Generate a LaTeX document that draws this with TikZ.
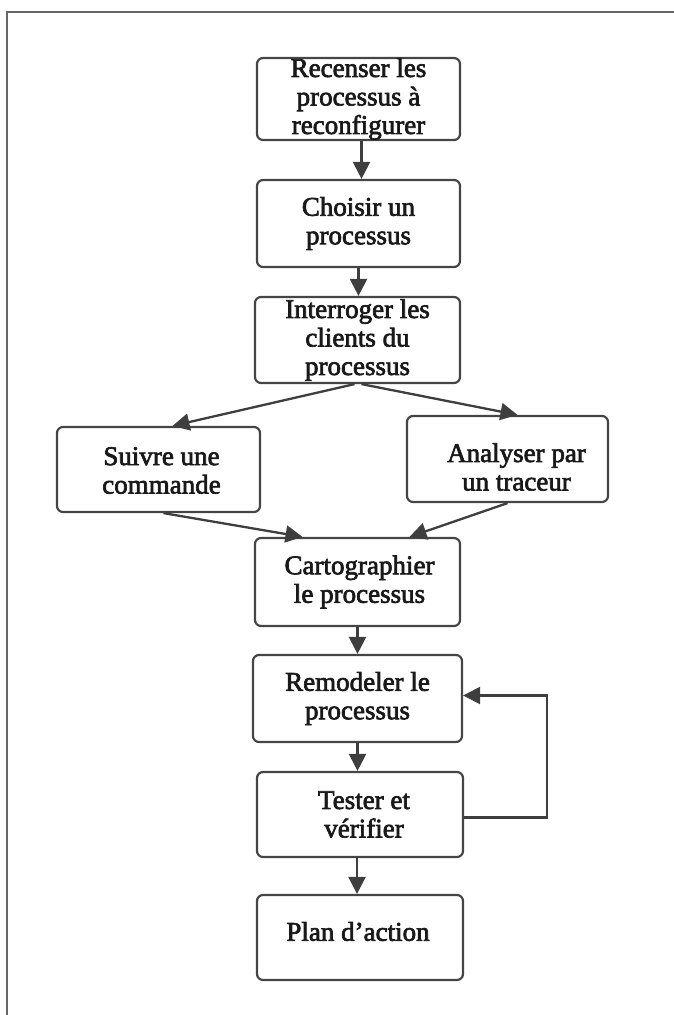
\documentclass[tikz,border=0pt]{standalone}
\usepackage{fontspec}
\setmainfont{Liberation Serif}[FakeBold=2.5]
\usetikzlibrary{arrows.meta,calc}

\tikzset{
  stepbox/.style={draw=boxgray, line width=2.2pt, rounded corners=6pt, inner sep=0pt},
  label/.style={align=center, inner sep=0pt, font=\fontsize{27}{28.5}\selectfont, text=black!90},
  arr/.style={draw=linegray, line width=2.3pt,
    -{Triangle[length=17pt, width=17pt]}},
  frame/.style={draw=framegray, line width=2.2pt}
}
\definecolor{boxgray}{HTML}{454545}
\definecolor{linegray}{HTML}{3E3E3E}
\definecolor{framegray}{HTML}{666666}

\begin{document}
\begin{tikzpicture}[x=1pt, y=-1pt]
\useasboundingbox (0,0) rectangle (673,1015);

% outer frame
\draw[frame] (7,1030) -- (7,12) -- (690,12);

% process boxes
\node[stepbox, minimum width=203pt, minimum height=82pt] (b1) at (358.5,99) {};
\node[stepbox, minimum width=203pt, minimum height=87pt] (b2) at (358.5,223.5) {};
\node[stepbox, minimum width=205pt, minimum height=86pt] (b3) at (357.5,340) {};
\node[stepbox, minimum width=203pt, minimum height=85pt] (b4) at (158.5,469.5) {};
\node[stepbox, minimum width=201pt, minimum height=86pt] (b5) at (507.5,459) {};
\node[stepbox, minimum width=205pt, minimum height=88pt] (b6) at (357.5,582) {};
\node[stepbox, minimum width=209pt, minimum height=87pt] (b7) at (357.5,698.5) {};
\node[stepbox, minimum width=206pt, minimum height=85pt] (b8) at (360,814.5) {};
\node[stepbox, minimum width=206pt, minimum height=85pt] (b9) at (360,937.5) {};

% box texts
\node[label] (t1) at (b1) {Recenser les\\processus à\\reconfigurer};
\node[label] (t2) at (b2) {Choisir un\\processus};
\node[label] (t3) at (b3) {Interroger les\\clients du\\processus};
\node[label] (t4) at ($(b4)+(3,1)$) {Suivre une\\commande};
\node[label] (t5) at ($(b5)+(9,8)$) {Analyser par\\un traceur};
\node[label] (t6) at ($(b6)+(2,0)$) {Cartographier\\le processus};
\node[label] (t7) at (b7) {Remodeler le\\processus};
\node[label] (t8) at ($(b8)+(4,0)$) {Tester et\\vérifier};
\node[label] (t9) at ($(b9)+(-2,-6)$) {Plan d’action};

% connectors
\draw[arr] ($(b1.south)+(3,0)$) -- ($(b2.north)+(3,0)$);
\draw[arr] ($(b2.south)+(0,0)$) -- ($(b3.north)+(1,0)$);
\draw[arr] ($(b3.south)+(-3,0)$) -- ($(b4.north)+(14,0)$);
\draw[arr] ($(b3.south)+(4,0)$) -- ($(b5.north)+(10,0)$);
\draw[arr] ($(b4.south)+(5,0)$) -- ($(b6.north)+(-55,0)$);
\draw[arr] (b5.south) -- ($(b6.north)+(52,0)$);
\draw[arr] (b6.south) -- (b6.south |- b7.north);
\draw[arr] (b7.south) -- (b7.south |- b8.north);
\draw[arr] ($(b8.south)+(-3,0)$) -- ($(b9.north)+(-3,0)$);

% feedback loop
\coordinate (loopx) at (547,0);
\draw[arr] ($(b8.east)+(0,3)$) -| (loopx |- {$(b7.east)+(0,-3)$}) -- ($(b7.east)+(0,-3)$);
\end{tikzpicture}
\end{document}
